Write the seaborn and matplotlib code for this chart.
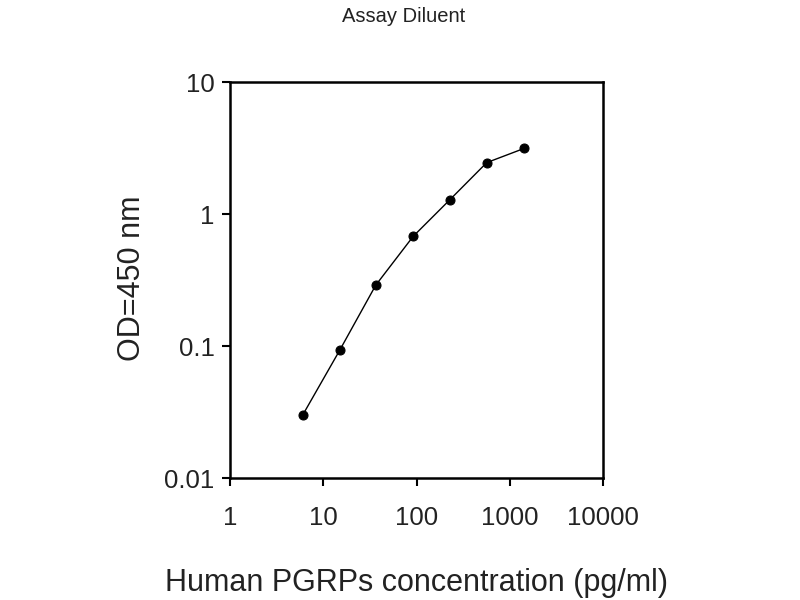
import matplotlib
matplotlib.use("Agg")
import matplotlib.pyplot as plt
import matplotlib.ticker as mticker
import pandas as pd
import seaborn as sns

# standard curve
conc = [6.0, 15.1, 36.5, 92, 228, 565, 1420]
od = [0.030, 0.094, 0.29, 0.68, 1.29, 2.46, 3.15]
x_ticks = [1, 10, 100, 1000, 10000]
y_ticks = [0.01, 0.1, 1, 10]
y_tick_labels = ["0.01", "0.1", "1", "10"]

df = pd.DataFrame({"conc": conc, "od": od})

sns.set_style("white")
plt.rcParams["font.family"] = ["Liberation Sans", "DejaVu Sans"]

fig = plt.figure(figsize=(8, 6), dpi=100)
ax = fig.add_axes([0.2875, 0.203, 0.4665, 0.66])

sns.lineplot(data=df, x="conc", y="od", ax=ax, color="black", linewidth=1.0,
             marker="o", markersize=6.5, markeredgecolor="black")

ax.set_xscale("log")
ax.set_yscale("log")
ax.set_xlim(1, 10000)
ax.set_ylim(0.01, 10)
ax.xaxis.set_major_locator(mticker.FixedLocator(x_ticks))
ax.xaxis.set_minor_locator(mticker.NullLocator())
ax.yaxis.set_major_locator(mticker.FixedLocator(y_ticks))
ax.yaxis.set_minor_locator(mticker.NullLocator())
ax.set_xticklabels([str(t) for t in x_ticks])
ax.set_yticklabels(y_tick_labels)
ax.tick_params(axis="both", which="major", bottom=True, left=True,
               direction="out", length=6, width=1.5, colors="black",
               labelcolor="#222222", labelsize=18.5)
ax.tick_params(axis="x", pad=14)
ax.tick_params(axis="y", pad=5)
for s in ax.spines.values():
    s.set_color("black")
    s.set_linewidth(1.8)

ax.set_xlabel("Human PGRPs concentration (pg/ml)", fontsize=22, color="#222222")
ax.xaxis.set_label_coords(0.5, -0.265)
ax.xaxis.label.set_va("center")
ax.set_ylabel("OD=450 nm", fontsize=22, color="#222222")
ax.yaxis.set_label_coords(-0.263, 0.506)
ax.yaxis.label.set_va("center")
ax.yaxis.label.set_ha("center")
ax.yaxis.label.set_rotation_mode("default")
fig.text(0.505, 0.972, "Assay Diluent", ha="center", va="center",
         fontsize=14.5, color="#222222")

fig.savefig("out.png", dpi=100)
